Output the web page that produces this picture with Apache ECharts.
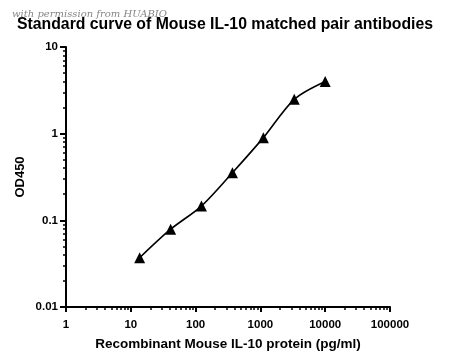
<!DOCTYPE html>
<html><head><meta charset="utf-8">
<script src="https://cdn.jsdelivr.net/npm/echarts@6/dist/echarts.min.js"></script>
<style>html,body{margin:0;padding:0;background:#fff}#c{width:450px;height:364px}</style>
</head><body><div id="c"></div>
<script>
const concentration = [13.7, 41.2, 123, 370, 1111, 3333, 10000];
const od450 = [0.037, 0.079, 0.146, 0.354, 0.90, 2.49, 4.0];
const xTickLabels = [1, 10, 100, 1000, 10000, 100000];
const yTickLabels = [0.01, 0.1, 1, 10];
const xMinor = [];
for (let d = 1; d < 100000; d *= 10) for (let k = 2; k <= 9; k++) xMinor.push(k * d);
const yMinor = [];
for (let d = 0.01; d < 10; d *= 10) for (let k = 2; k <= 9; k++) yMinor.push(+(k * d).toPrecision(3));

const font = '"Liberation Sans", Arial, sans-serif';
const chart = echarts.init(document.getElementById('c'));
const labelStyle = {color: '#000', fontWeight: 'bold', fontSize: 11.5, fontFamily: font};
chart.setOption({
  animation: false,
  backgroundColor: '#fff',
  title: {
    text: 'Standard curve of Mouse IL-10 matched pair antibodies',
    left: 'center', top: 12,
    textStyle: {color: '#000', fontWeight: 'bold', fontSize: 15.8, fontFamily: font}
  },
  graphic: [{
    type: 'text', left: 12, top: 9, silent: true,
    style: {text: 'with permission from HUABIO', fill: 'rgba(80,80,80,0.7)',
      font: 'italic 10px "DejaVu Serif", serif'}
  }],
  grid: {left: 66, right: 60, top: 47, bottom: 57},
  xAxis: [{
    type: 'log', logBase: 10, min: 1, max: 100000,
    name: 'Recombinant Mouse IL-10 protein (pg/ml)', nameLocation: 'middle', nameGap: 30,
    nameTextStyle: {color: '#000', fontWeight: 'bold', fontSize: 13.5, fontFamily: font},
    axisLine: {lineStyle: {color: '#000', width: 2}},
    axisTick: {length: 5, lineStyle: {color: '#000', width: 2}, customValues: xTickLabels},
    axisLabel: Object.assign({margin: 12, customValues: xTickLabels, formatter: v => String(v)}, labelStyle),
    splitLine: {show: false}
  }, {
    type: 'log', logBase: 10, min: 1, max: 100000, gridIndex: 0, position: 'bottom',
    axisLine: {show: false},
    axisTick: {length: 3, lineStyle: {color: '#000', width: 1.5}, customValues: xMinor},
    axisLabel: {show: false}, splitLine: {show: false}
  }],
  yAxis: [{
    type: 'log', logBase: 10, min: 0.01, max: 10,
    name: 'OD450', nameLocation: 'middle', nameGap: 39, nameMoveOverlap: false,
    nameTextStyle: {color: '#000', fontWeight: 'bold', fontSize: 13, fontFamily: font},
    axisLine: {lineStyle: {color: '#000', width: 2}},
    axisTick: {length: 6, lineStyle: {color: '#000', width: 2}, customValues: yTickLabels},
    axisLabel: Object.assign({margin: 8, customValues: yTickLabels, formatter: v => String(v)}, labelStyle),
    splitLine: {show: false}
  }, {
    type: 'log', logBase: 10, min: 0.01, max: 10, position: 'left',
    axisLine: {show: false},
    axisTick: {length: 3, lineStyle: {color: '#000', width: 1.5}, customValues: yMinor},
    axisLabel: {show: false}, splitLine: {show: false}
  }],
  series: [{
    type: 'line', xAxisIndex: 0, yAxisIndex: 0,
    data: concentration.map((c, i) => [c, od450[i]]),
    smooth: 0.3,
    symbol: 'triangle', symbolSize: 11,
    lineStyle: {color: '#000', width: 1.6},
    itemStyle: {color: '#000'}
  }]
});
</script></body></html>
